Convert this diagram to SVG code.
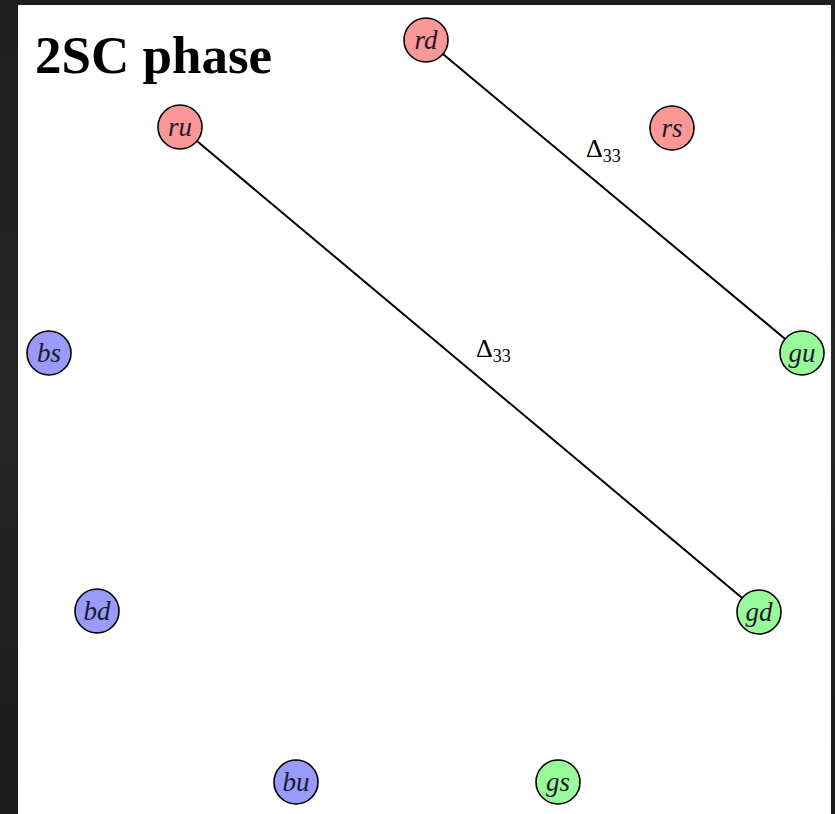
<svg xmlns="http://www.w3.org/2000/svg" width="835" height="814" viewBox="0 0 835 814">
<defs>
<linearGradient id="bg" x1="0" y1="0" x2="0" y2="1">
<stop offset="0" stop-color="#1e1e1e"/>
<stop offset="0.5" stop-color="#262626"/>
<stop offset="1" stop-color="#1a1a1a"/>
</linearGradient>
</defs>
<style>
.node circle{stroke:#000;stroke-width:1.6}
.r circle{fill:#fa9898}
.b circle{fill:#9a9afa}
.g circle{fill:#98fa98}
.node text{font-family:"Liberation Serif","Times New Roman",serif;font-style:italic;font-size:27px;fill:#1a1a2a;text-anchor:middle}
.edge{stroke:#000;stroke-width:2;fill:none}
.lab{font-family:"Liberation Serif","Times New Roman",serif;font-size:26px;fill:#000}
.sub{font-size:18px}
.title{font-family:"Liberation Serif","Times New Roman",serif;font-weight:bold;font-size:53px;fill:#000}
</style>
<rect x="0" y="0" width="835" height="814" fill="url(#bg)"/>
<rect x="18" y="5" width="813" height="809" fill="#fff"/>
<text class="title" x="35" y="73">2SC phase</text>
<g id="connectors">
<line class="edge" x1="442.9" y1="54.1" x2="785.1" y2="338.9"/>
<line class="edge" x1="196.9" y1="141.1" x2="742.1" y2="597.9"/>
<text class="lab" x="586" y="157">Δ<tspan class="sub" dy="5">33</tspan></text>
<text class="lab" x="476" y="357">Δ<tspan class="sub" dy="5">33</tspan></text>
</g>
<g id="rd" class="node r"><circle cx="426" cy="40" r="22"/><text x="426" y="49">rd</text></g>
<g id="rs" class="node r"><circle cx="672" cy="128" r="22"/><text x="672" y="137">rs</text></g>
<g id="ru" class="node r"><circle cx="180" cy="127" r="22"/><text x="180" y="136">ru</text></g>
<g id="bs" class="node b"><circle cx="49" cy="353" r="22"/><text x="49" y="362">bs</text></g>
<g id="gu" class="node g"><circle cx="802" cy="353" r="22"/><text x="802" y="362">gu</text></g>
<g id="bd" class="node b"><circle cx="97" cy="611" r="22"/><text x="97" y="620">bd</text></g>
<g id="gd" class="node g"><circle cx="759" cy="612" r="22"/><text x="759" y="621">gd</text></g>
<g id="bu" class="node b"><circle cx="296" cy="782" r="22"/><text x="296" y="791">bu</text></g>
<g id="gs" class="node g"><circle cx="558" cy="782" r="22"/><text x="558" y="791">gs</text></g>
</svg>
